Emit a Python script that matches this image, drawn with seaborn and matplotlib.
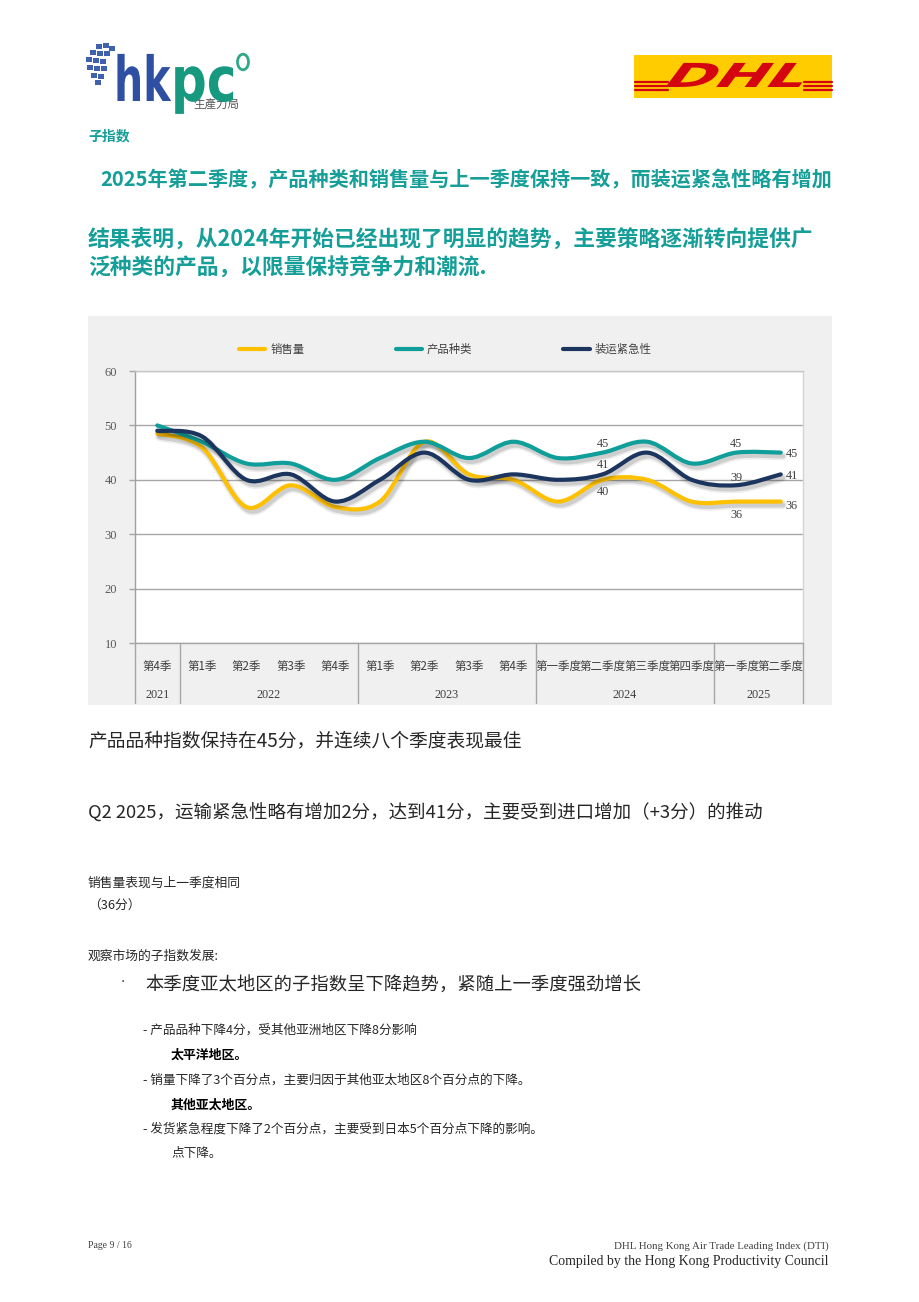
import numpy as np
import pandas as pd
import matplotlib
matplotlib.use("Agg")
import matplotlib.pyplot as plt
import seaborn as sns
from matplotlib.path import Path
from matplotlib.patches import PathPatch, Rectangle, Circle
from matplotlib.lines import Line2D
from matplotlib.textpath import TextPath
from matplotlib.font_manager import FontProperties
import matplotlib.patheffects as pe
import matplotlib.transforms as mtransforms

# ---------------- data ----------------
quarters = ['第4季', '第1季', '第2季', '第3季', '第4季', '第1季', '第2季', '第3季', '第4季',
            '第一季度', '第二季度', '第三季度', '第四季度', '第一季度', '第二季度']
years = ['2021', '2022', '2023', '2024', '2025']
year_counts = [1, 4, 4, 4, 2]
series_names = ['销售量', '产品种类', '装运紧急性']
sales = [48.5, 46, 35, 39, 35, 36, 47, 41, 40, 36, 40, 40, 36, 36, 36]
variety = [50, 47, 43, 43, 40, 44, 47, 44, 47, 44, 45, 47, 43, 45, 45]
urgency = [49, 48, 40, 41, 36, 40, 45, 40, 41, 40, 41, 45, 40, 39, 41]
label_points = [10, 13, 14]
y_ticks = [10, 20, 30, 40, 50, 60]

colors = {'销售量': '#FFC000', '产品种类': '#0F9E99', '装运紧急性': '#1C355E'}
TEAL = '#169E98'

sns.set_theme(style='white')
plt.rcParams['font.family'] = ['Noto Sans CJK SC', 'DejaVu Sans']

W, H = 920, 1302
fig = plt.figure(figsize=(W / 100, H / 100), dpi=100)
fig.patch.set_facecolor('white')


def fx(x):
    return x / W


def fy(y):
    return 1 - y / H


def ftext(x, y, s, **kw):
    kw.setdefault('va', 'center')
    kw.setdefault('ha', 'left')
    fig.text(fx(x), fy(y), s, **kw)


# ---------------- chart panel ----------------
fig.patches.append(Rectangle((fx(88), fy(705)), (832 - 88) / W, (705 - 316) / H,
                             transform=fig.transFigure, facecolor='#F0F0F0',
                             edgecolor='none', zorder=-5))

ax = fig.add_axes([fx(135), fy(643), (803 - 135) / W, (643 - 371) / H])
ax.set_zorder(1)
ax.set_facecolor('white')

df = pd.DataFrame({
    'idx': np.tile(np.arange(len(quarters)), 3),
    'value': sales + variety + urgency,
    'series': np.repeat(series_names, len(quarters)),
})
sns.lineplot(data=df, x='idx', y='value', hue='series', hue_order=series_names,
             palette=colors, ax=ax, legend=False, sort=False)


def smooth_path(xy):
    P = np.asarray(xy, dtype=float)
    n = len(P)
    verts = [P[0]]
    codes = [Path.MOVETO]
    for i in range(n - 1):
        p0 = P[i - 1] if i > 0 else P[i]
        p1 = P[i]
        p2 = P[i + 1]
        p3 = P[i + 2] if i + 2 < n else P[i + 1]
        verts += [p1 + (p2 - p0) / 6.0, p2 - (p3 - p1) / 6.0, p2]
        codes += [Path.CURVE4] * 3
    return Path(verts, codes)


# replace the straight seaborn lines by Excel-like smoothed curves
for line in list(ax.lines):
    xy = line.get_xydata()
    c = line.get_color()
    patch = PathPatch(smooth_path(xy), facecolor='none', edgecolor=c, lw=3.0,
                      capstyle='round', joinstyle='round', zorder=3,
                      path_effects=[
                          pe.SimpleLineShadow(offset=(1.5, -2.5), shadow_color='black',
                                              alpha=0.07, linewidth=6),
                          pe.SimpleLineShadow(offset=(1.5, -2.5), shadow_color='black',
                                              alpha=0.13, linewidth=3.5),
                          pe.Normal()])
    ax.add_patch(patch)
    line.remove()

ax.set_xlim(-0.5, len(quarters) - 0.5)
ax.set_ylim(10, 60)
ax.set_yticks(y_ticks)
ax.yaxis.grid(True, color='#A6A6A6', lw=1.0, zorder=1)
ax.set_axisbelow(True)
ax.set_xticks(range(len(quarters)))
ax.set_xticklabels(quarters)
ax.tick_params(axis='x', length=0, pad=12, labelsize=8.3, labelcolor='#404040')
ax.tick_params(axis='y', length=4, width=1, color='#A6A6A6', pad=9, labelsize=9,
               labelcolor='#595959', left=True)
for lab in ax.get_yticklabels():
    lab.set_fontfamily(['Liberation Serif', 'Noto Sans CJK SC'])
ax.set_xlabel('')
ax.set_ylabel('')
for side, col in [('left', '#A0A0A0'), ('bottom', '#A6A6A6'),
                  ('top', '#C8C8C8'), ('right', '#D5D5D5')]:
    ax.spines[side].set_color(col)
    ax.spines[side].set_linewidth(1.0)

# year group labels and separators
trans = mtransforms.blended_transform_factory(ax.transData, ax.transAxes)
sep_bottom = -(703 - 643) / (643 - 371)
start = 0
bounds = [-0.5]
for yr, cnt in zip(years, year_counts):
    centre = start + (cnt - 1) / 2.0
    ax.text(centre, -(695 - 643) / (643 - 371), yr, transform=trans, ha='center',
            va='center', fontsize=8.8, color='#404040',
            family=['Liberation Serif', 'Noto Sans CJK SC'])
    start += cnt
    bounds.append(start - 0.5)
for b in bounds:
    ax.add_line(Line2D([b, b], [0, sep_bottom], transform=trans, color='#A6A6A6',
                       lw=1.0, clip_on=False))

# data labels
series_vals = {'销售量': sales, '产品种类': variety, '装运紧急性': urgency}
label_offsets = {
    10: {'产品种类': (0, 9, 'center'), '装运紧急性': (0, 9, 'center'), '销售量': (0, -12, 'center')},
    13: {'产品种类': (0, 9, 'center'), '装运紧急性': (0, 7, 'center'), '销售量': (0, -13, 'center')},
    14: {'产品种类': (5, -1, 'left'), '装运紧急性': (5, -2, 'left'), '销售量': (5, -4, 'left')},
}
for i in label_points:
    for name in series_names:
        dx, dy, ha = label_offsets[i][name]
        v = series_vals[name][i]
        ax.annotate(f'{v:g}', (i, v), xytext=(dx, dy), textcoords='offset pixels',
                    ha=ha, va='center', fontsize=8.8, color='#404040', zorder=5,
                    family=['Liberation Serif', 'Noto Sans CJK SC'])

# legend
handles = [Line2D([], [], color=colors[n], lw=3) for n in series_names]
fig.legend(handles, series_names, loc='center left',
           bbox_to_anchor=(fx(239), fy(349)), ncol=3, frameon=False,
           fontsize=8.2, handlelength=2.3, handletextpad=0.45, columnspacing=8.0,
           borderpad=0, borderaxespad=0, labelcolor='#404040')

# ---------------- page text ----------------
ftext(88, 136, '子指数', fontsize=10, fontweight='bold', color=TEAL)
ftext(100, 180, '2025年第二季度，产品种类和销售量与上一季度保持一致，而装运紧急性略有增加',
      fontsize=14.5, fontweight='bold', color=TEAL)
ftext(88, 240, '结果表明，从2024年开始已经出现了明显的趋势，主要策略逐渐转向提供广',
      fontsize=15.7, fontweight='bold', color=TEAL)
ftext(88, 268, '泛种类的产品，以限量保持竞争力和潮流.',
      fontsize=15.7, fontweight='bold', color=TEAL)

ftext(88, 741, '产品品种指数保持在45分，并连续八个季度表现最佳', fontsize=13.5, color='#262626')
ftext(88, 813, 'Q2 2025，运输紧急性略有增加2分，达到41分，主要受到进口增加（+3分）的推动',
      fontsize=13.3, color='#262626')
ftext(88, 883, '销售量表现与上一季度相同', fontsize=9.2, color='#262626')
ftext(88, 906, '（36分）', fontsize=9.2, color='#262626')
ftext(88, 956, '观察市场的子指数发展:', fontsize=9.2, color='#262626')
ftext(119, 982, '·', fontsize=6, color='#262626')
ftext(145, 986, '本季度亚太地区的子指数呈下降趋势，紧随上一季度强劲增长', fontsize=13.2,
      color='#262626')
ftext(143, 1030, '- 产品品种下降4分，受其他亚洲地区下降8分影响', fontsize=9.1, color='#262626')
ftext(171, 1055, '太平洋地区。', fontsize=9.3, fontweight='bold', color='black')
ftext(143, 1080, '- 销量下降了3个百分点，主要归因于其他亚太地区8个百分点的下降。', fontsize=9.1,
      color='#262626')
ftext(171, 1105, '其他亚太地区。', fontsize=9.3, fontweight='bold', color='black')
ftext(143, 1129, '- 发货紧急程度下降了2个百分点，主要受到日本5个百分点下降的影响。', fontsize=9.1,
      color='#262626')
ftext(171, 1153, '点下降。', fontsize=9.1, color='#262626')

# footer
ftext(88, 1246, 'Page 9 / 16', fontsize=7, color='#404040', family='Liberation Serif')
ftext(829, 1246, 'DHL Hong Kong Air Trade Leading Index (DTI)', fontsize=7.8, color='#404040',
      ha='right', family='Liberation Serif')
ftext(829, 1262, 'Compiled by the Hong Kong Productivity Council', fontsize=9.9,
      color='#262626', ha='right', family='Liberation Serif')


# ---------------- logos ----------------
def text_patch(s, x, y, sx, sy, color, skew=0.0, weight='bold', family='DejaVu Sans'):
    tp = TextPath((0, 0), s, size=1, prop=FontProperties(family=family, weight=weight))
    tr = (mtransforms.Affine2D().skew_deg(skew, 0).scale(sx / W, sy / H)
          .translate(fx(x), fy(y)) + fig.transFigure)
    p = PathPatch(tp, facecolor=color, edgecolor='none', transform=tr, zorder=5)
    fig.patches.append(p)


# hkpc logo
sq_centres = [(99, 46), (106, 45), (112, 48),
              (93, 52), (100, 53), (107, 53),
              (89, 59), (96, 60), (103, 61),
              (90, 67), (97, 68), (104, 68),
              (94, 75), (101, 76),
              (98, 82)]
for (cx, cy) in sq_centres:
    fig.patches.append(Rectangle((fx(cx - 2.8), fy(cy + 2.5)), 5.6 / W, 5.0 / H,
                                 transform=fig.transFigure, facecolor='#3F61AE',
                                 edgecolor='none', zorder=5))
text_patch('hk', 114, 101, 41, 62, '#2F4FA2')
text_patch('pc', 171, 101, 50, 62, '#17997F')
fig.patches.append(Circle((fx(243), fy(62)), 5.5 / W, transform=fig.transFigure,
                          facecolor='none', edgecolor='#2EAA8A', lw=2.0, zorder=5))
ftext(193, 104, '生產力局', fontsize=8.3, color='#555555',
      family=['Noto Sans CJK TC', 'DejaVu Sans'])

# DHL logo
fig.patches.append(Rectangle((fx(634), fy(98)), (832 - 634) / W, (98 - 55) / H,
                             transform=fig.transFigure, facecolor='#FFCC00',
                             edgecolor='none', zorder=4))
for yy in [82, 86, 90]:
    fig.lines.append(Line2D([fx(635), fx(668)], [fy(yy), fy(yy)], transform=fig.transFigure,
                            color='#D40511', lw=1.6, zorder=5))
    fig.lines.append(Line2D([fx(804), fx(832)], [fy(yy), fy(yy)], transform=fig.transFigure,
                            color='#D40511', lw=1.6, zorder=5))
text_patch('DHL', 660, 87, 61, 33, '#D40511', skew=22)

fig.savefig('out.png', dpi=100, facecolor='white')
